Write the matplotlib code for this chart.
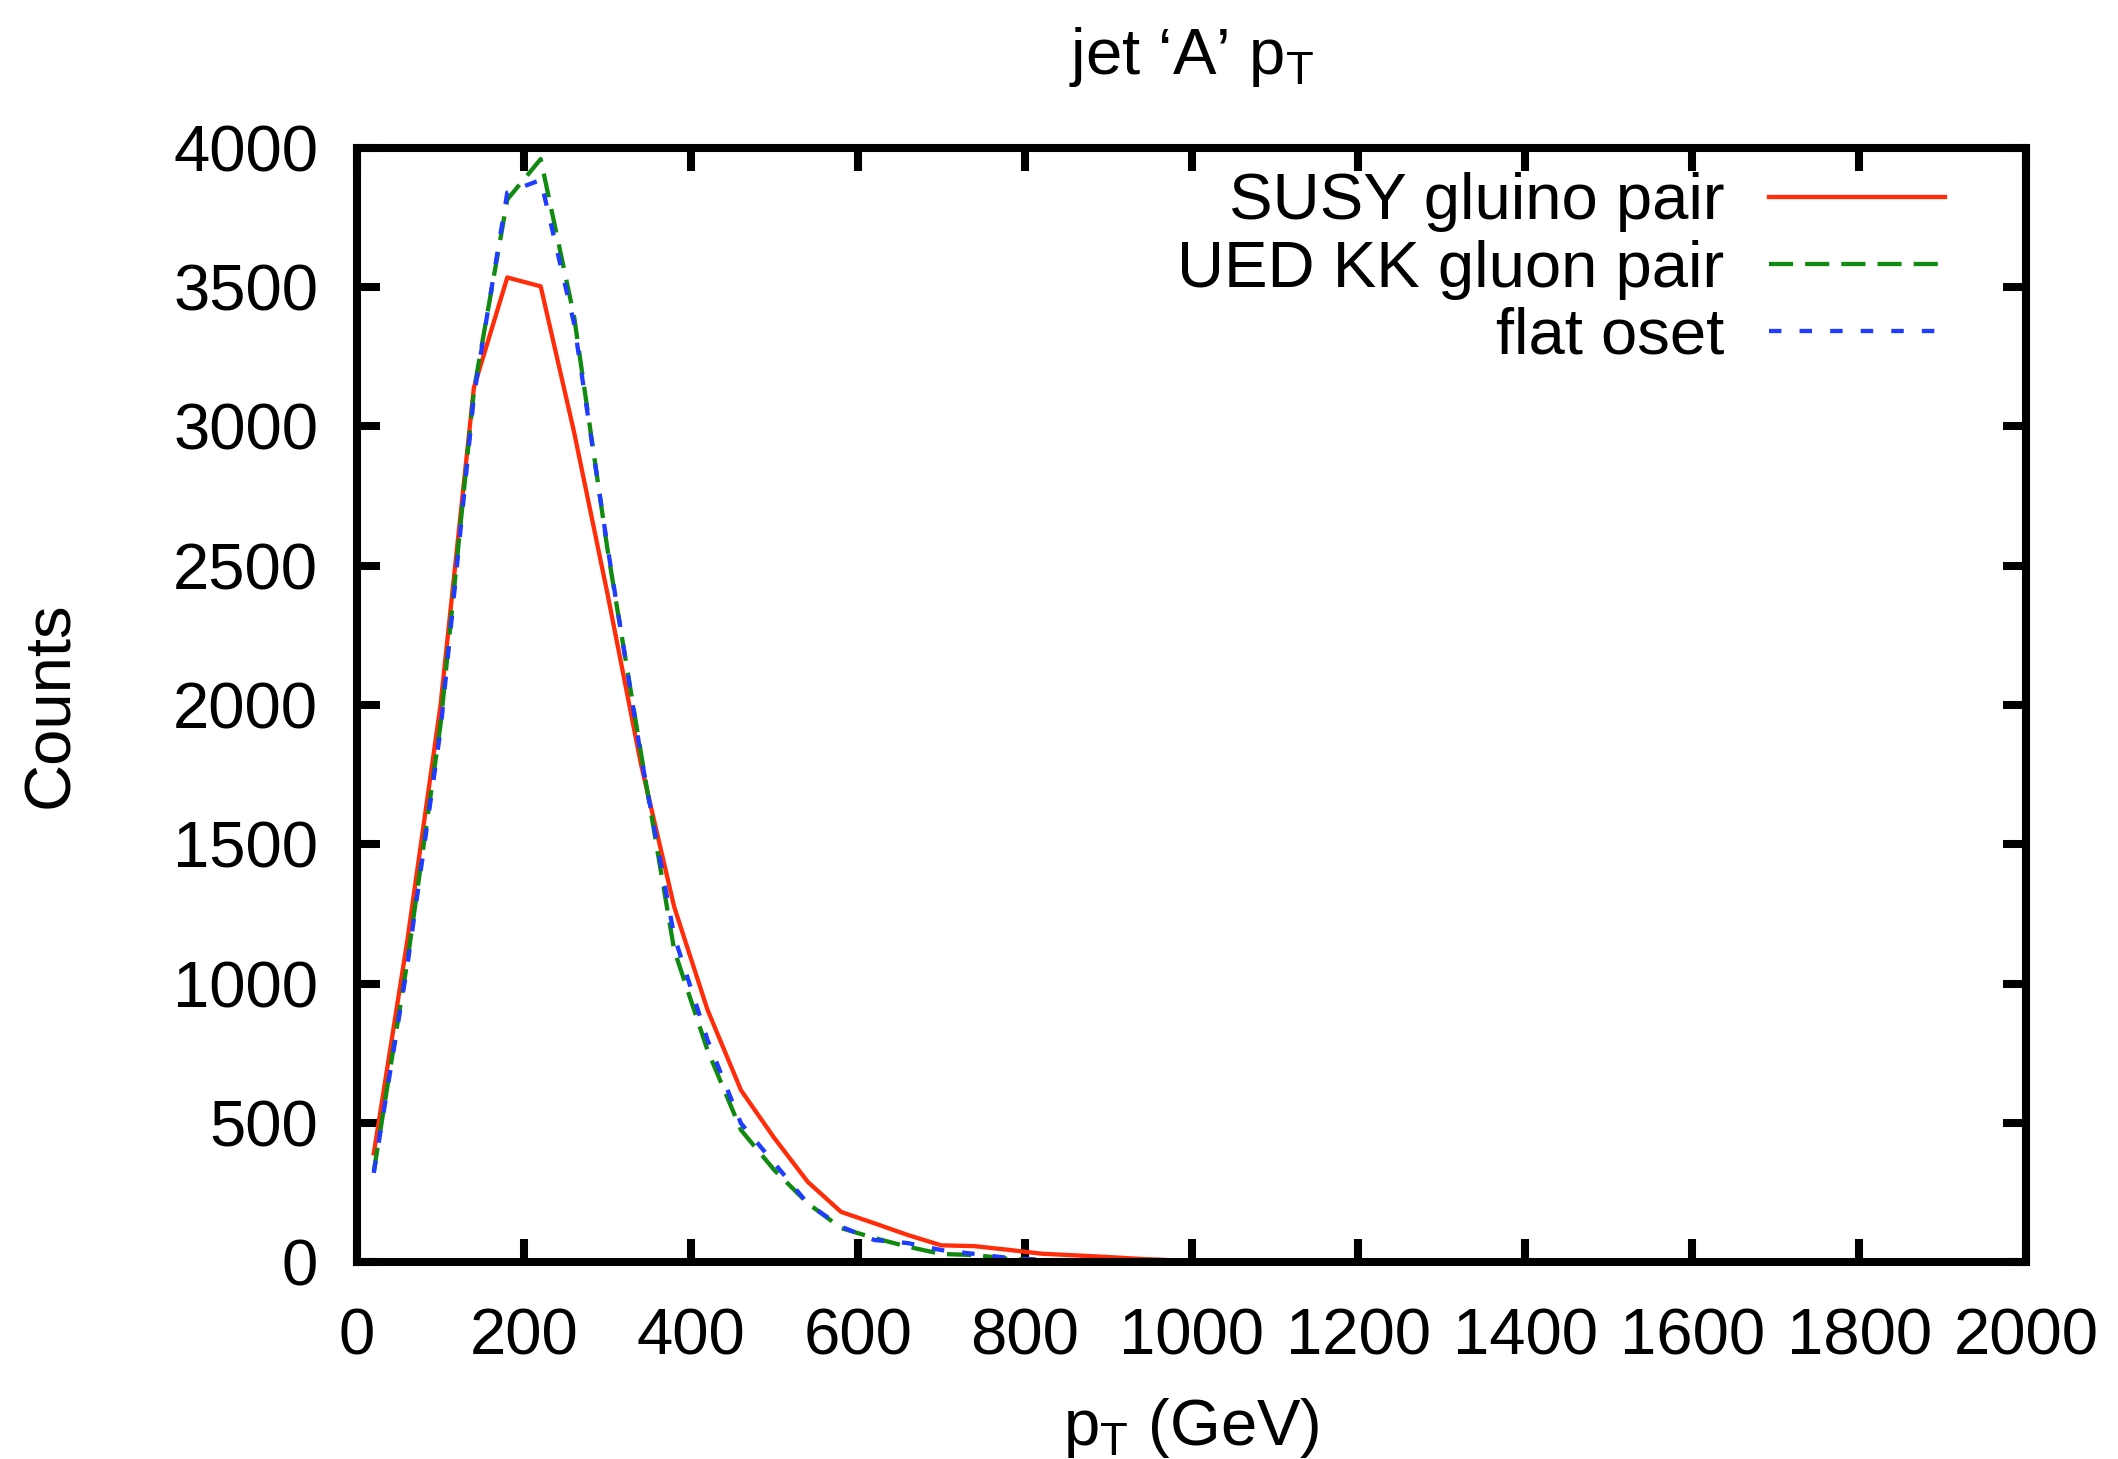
import matplotlib
matplotlib.use('Agg')
import matplotlib.pyplot as plt


# bin centres (GeV) and counts
pt_susy = [20, 60, 100, 140, 180, 220, 260, 300, 340, 380, 420, 460, 500,
           540, 580, 620, 660, 700, 740, 780, 820, 860, 900, 940, 980]
susy = [390, 1150, 2000, 3140, 3535, 3503, 2980, 2400, 1790, 1275, 905, 617, 445,
        288, 180, 139, 97, 60, 57, 44, 30, 24, 18, 11, 6]

pt_ued = [20, 60, 100, 140, 180, 220, 260, 300, 340, 380, 420, 460, 500,
          540, 580, 620, 660, 700, 740, 780, 820, 860]
ued = [325, 1075, 1930, 3130, 3815, 3960, 3395, 2560, 1830, 1120, 760, 474, 330,
       211, 122, 86, 55, 29, 25, 12, 6, 3]

pt_oset = [20, 60, 100, 140, 180, 220, 260, 300, 340, 380, 420, 460, 500,
           540, 580, 620, 660, 700, 740, 780, 820, 860]
oset = [320, 1060, 1910, 3110, 3840, 3885, 3370, 2570, 1820, 1170, 797, 498, 355,
        210, 127, 79, 68, 43, 29, 15, 8, 4]

labels = ['SUSY gluino pair', 'UED KK gluon pair', 'flat oset']
xticks = list(range(0, 2001, 200))
yticks = list(range(0, 4001, 500))


plt.rcParams['font.family'] = ['Liberation Sans', 'DejaVu Sans']
plt.rcParams['mathtext.fontset'] = 'custom'
plt.rcParams['mathtext.rm'] = 'Liberation Sans'
plt.rcParams['mathtext.it'] = 'Liberation Sans'
plt.rcParams['mathtext.default'] = 'regular'

fs = 23.5

fig, ax = plt.subplots(figsize=(10.59, 7.295), dpi=200)
fig.subplots_adjust(left=0.1686, right=0.9566, top=0.8986, bottom=0.135)

ax.plot(pt_susy, susy, color='#ff2d0a', lw=1.55, ls='-', label=labels[0])
ax.plot(pt_ued, ued, color='#108a10', lw=1.55, ls=(0, (5.6, 2.8)), label=labels[1])
ax.plot(pt_oset, oset, color='#1f3cff', lw=1.55, ls=(0, (2.9, 4.2)), label=labels[2])

ax.set_xlim(0, 2000)
ax.set_ylim(0, 4000)
ax.set_xticks(xticks)
ax.set_yticks(yticks)

for sp in ax.spines.values():
    sp.set_linewidth(2.9)
ax.tick_params(which='both', direction='in', length=8.3, width=2.9,
               top=True, right=True, labelsize=fs)
ax.tick_params(axis='x', pad=16.5)
ax.tick_params(axis='y', pad=14)

ax.set_title('jet \u2018A\u2019 p$_T$', fontsize=fs, pad=26.5)
ax.set_xlabel('p$_T$ (GeV)', fontsize=fs, labelpad=10)
ax.set_ylabel('Counts', fontsize=fs, labelpad=33)

ax.legend(loc='upper right', bbox_to_anchor=(0.9515, 0.978), frameon=False,
          markerfirst=False, fontsize=fs, handlelength=2.7, handletextpad=0.68,
          labelspacing=0.11, borderpad=0, borderaxespad=0)

plt.savefig('out.png', dpi=200)
